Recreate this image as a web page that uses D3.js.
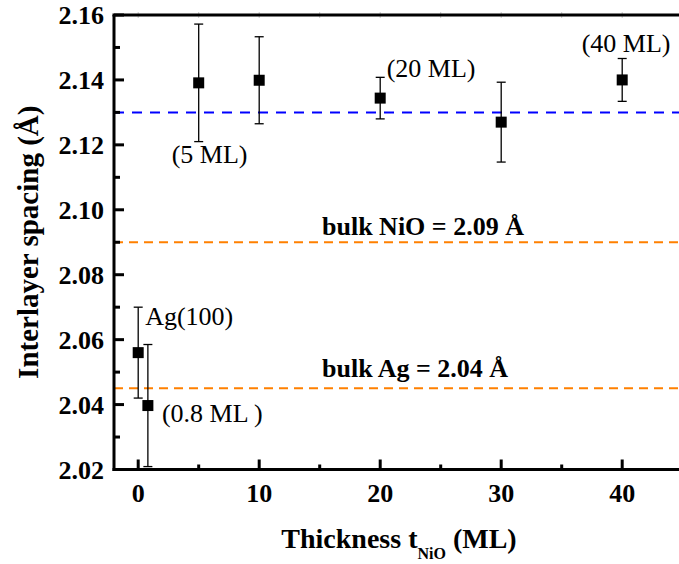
<!DOCTYPE html>
<html>
<head>
<meta charset="utf-8">
<script src="https://cdn.jsdelivr.net/npm/d3@7"></script>
<style>
  html, body { margin: 0; padding: 0; background: #fff; }
  svg { display: block; }
  text { font-family: "Liberation Serif", "Times New Roman", serif; fill: #000; }
</style>
</head>
<body>
<svg id="chart" width="679" height="564"></svg>
<script>
// ---- data ----
const thickness = [0, 0.8, 5, 10, 20, 30, 40];
const spacing   = [2.056, 2.0397, 2.1391, 2.1399, 2.1344, 2.127, 2.140];
const errors    = [0.014, 0.0188, 0.0181, 0.0134, 0.0064, 0.0123, 0.0066];

const refValues = [2.13, 2.09, 2.045];
const refColors = ["#0000ff", "#ff8000", "#ff8000"];
const refDash   = ["10,8", "9,6", "9,6"];

const refLabels = ["", "bulk NiO = 2.09 Å", "bulk Ag = 2.04 Å"];

const annotText = ["Ag(100)", "(0.8 ML )", "(5 ML)", "(20 ML)", "(40 ML)"];
const annotIndex = [0, 1, 2, 4, 6];

const xTicksMajor = [0, 10, 20, 30, 40];
const xTicksMinor = [5, 15, 25, 35];
const xTicksTop   = [0, 5, 10, 15, 20, 25, 30, 35, 40];
const yTicksMajor = [2.02, 2.04, 2.06, 2.08, 2.10, 2.12, 2.14, 2.16];
const yTicksMinor = [2.03, 2.05, 2.07, 2.09, 2.11, 2.13, 2.15];

(function () {
// ---- layout ----
const svg = d3.select("#chart");
const pLeft = 114, pTop = 15, pBottom = 469.5, pRight = 679;
const x = d3.scaleLinear().domain([-2, 45]).range([pLeft, pLeft + 47 * 12.1]);
const y = d3.scaleLinear().domain([2.02, 2.16]).range([pBottom, pTop]);

// reference lines
const refG = svg.append("g");
refValues.forEach((v, i) => {
  refG.append("line")
    .attr("x1", pLeft).attr("x2", pRight)
    .attr("y1", y(v)).attr("y2", y(v))
    .attr("stroke", refColors[i]).attr("stroke-width", 2)
    .attr("stroke-dasharray", refDash[i]);
});
// reference labels
const refLabelPos = [null, [322, -7], [322, -11]];
refLabels.forEach((t, i) => {
  if (!t) return;
  svg.append("text")
    .attr("x", refLabelPos[i][0])
    .attr("y", y(refValues[i]) + refLabelPos[i][1])
    .attr("font-size", 26).attr("font-weight", "bold")
    .text(t);
});

// error bars and markers
const pts = thickness.map((t, i) => ({ t, v: spacing[i], e: errors[i] }));
const eg = svg.append("g").attr("stroke", "#000").attr("stroke-width", 1.3);
pts.forEach(p => {
  const cx = x(p.t);
  eg.append("line").attr("x1", cx).attr("x2", cx).attr("y1", y(p.v + p.e)).attr("y2", y(p.v - p.e));
  eg.append("line").attr("x1", cx - 4.5).attr("x2", cx + 4.5).attr("y1", y(p.v + p.e)).attr("y2", y(p.v + p.e));
  eg.append("line").attr("x1", cx - 4.5).attr("x2", cx + 4.5).attr("y1", y(p.v - p.e)).attr("y2", y(p.v - p.e));
});
const ms = 11;
svg.append("g").selectAll("rect").data(pts).join("rect")
  .attr("x", d => x(d.t) - ms / 2).attr("y", d => y(d.v) - ms / 2)
  .attr("width", ms).attr("height", ms).attr("fill", "#000");

// annotations (offsets from their data point)
const annotOffset = [[7, -28], [14, 16], [-27, 80], [6.5, -21], [-40.5, -28]];
annotText.forEach((t, k) => {
  const p = pts[annotIndex[k]];
  svg.append("text")
    .attr("x", x(p.t) + annotOffset[k][0])
    .attr("y", y(p.v) + annotOffset[k][1])
    .attr("font-size", 26)
    .text(t);
});

// axes
const axG = svg.append("g");
xTicksTop.forEach(v => {
  axG.append("line").attr("x1", x(v)).attr("x2", x(v)).attr("y1", pTop - 3).attr("y2", pTop + 3)
    .attr("stroke", "#c8c8c8").attr("stroke-width", 1);
});
axG.append("line").attr("x1", pLeft - 1.5).attr("x2", pRight).attr("y1", pTop).attr("y2", pTop)
  .attr("stroke", "#000").attr("stroke-width", 3);
axG.append("line").attr("x1", pLeft - 1.5).attr("x2", pRight).attr("y1", pBottom).attr("y2", pBottom)
  .attr("stroke", "#000").attr("stroke-width", 3);
axG.append("line").attr("x1", pLeft).attr("x2", pLeft).attr("y1", pTop).attr("y2", pBottom + 1.5)
  .attr("stroke", "#000").attr("stroke-width", 3);

yTicksMajor.forEach(v => {
  axG.append("line").attr("x1", pLeft).attr("x2", pLeft + 10).attr("y1", y(v)).attr("y2", y(v))
    .attr("stroke", "#000").attr("stroke-width", 3);
});
yTicksMinor.forEach(v => {
  axG.append("line").attr("x1", pLeft).attr("x2", pLeft + 6).attr("y1", y(v)).attr("y2", y(v))
    .attr("stroke", "#000").attr("stroke-width", 3);
});
xTicksMajor.forEach(v => {
  axG.append("line").attr("x1", x(v)).attr("x2", x(v)).attr("y1", pBottom).attr("y2", pBottom - 10)
    .attr("stroke", "#000").attr("stroke-width", 3);
});
xTicksMinor.forEach(v => {
  axG.append("line").attr("x1", x(v)).attr("x2", x(v)).attr("y1", pBottom).attr("y2", pBottom - 5)
    .attr("stroke", "#000").attr("stroke-width", 3);
});

yTicksMajor.forEach(v => {
  axG.append("text").attr("x", pLeft - 10).attr("y", y(v)).attr("dy", "0.35em")
    .attr("text-anchor", "end").attr("font-size", 26).attr("font-weight", "bold")
    .text(d3.format(".2f")(v));
});
xTicksMajor.forEach(v => {
  axG.append("text").attr("x", x(v)).attr("y", 502)
    .attr("text-anchor", "middle").attr("font-size", 26).attr("font-weight", "bold")
    .text(v);
});

const xt = svg.append("text").attr("x", 399).attr("y", 548)
  .attr("text-anchor", "middle").attr("font-size", 28).attr("font-weight", "bold");
xt.append("tspan").text("Thickness t");
xt.append("tspan").attr("font-size", 16).attr("dy", 11).text("NiO");
xt.append("tspan").attr("dy", -11).text(" (ML)");

svg.append("text")
  .attr("transform", `translate(38, ${(pTop + pBottom) / 2}) rotate(-90)`)
  .attr("text-anchor", "middle").attr("font-size", 29).attr("font-weight", "bold")
  .text("Interlayer spacing (Å)");
})();
</script>
</body>
</html>
